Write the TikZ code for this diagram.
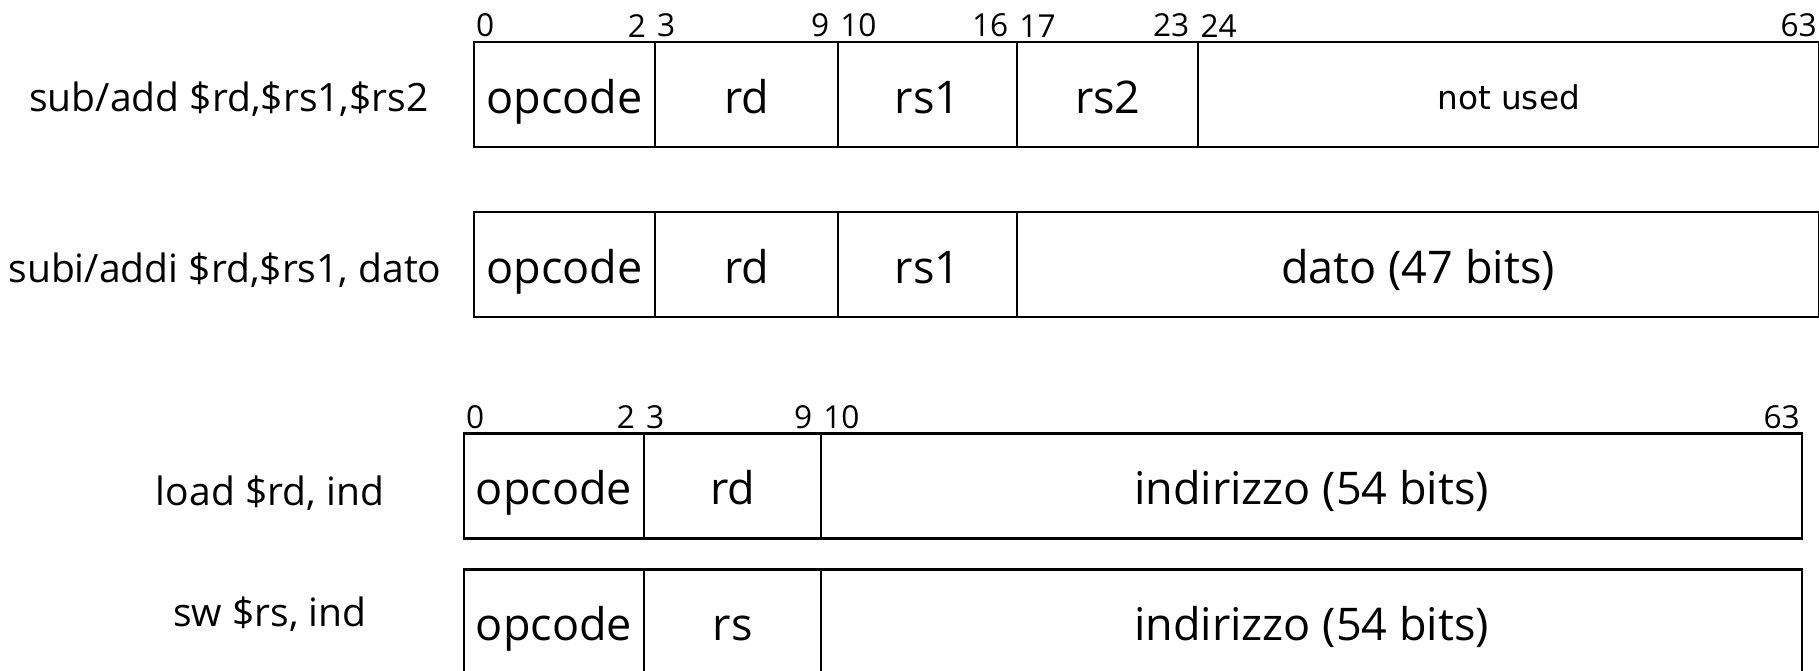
\documentclass[tikz,border=0pt]{standalone}
\usepackage{fontspec}
\setmainfont{Open Sans}
\newfontfamily\dvsans{DejaVu Sans}
\usetikzlibrary{positioning}

\begin{document}
\begin{tikzpicture}[x=0.01cm,y=-0.01cm,
  field/.style={draw,line width=0.6pt,outer sep=0pt,inner sep=0pt,
    minimum height=1.05cm,text height=1.32em,text depth=0.24em,
    font=\fontsize{12.8}{15}\selectfont},
  small/.style={text height=1.1em,font=\dvsans\fontsize{9.3}{11}\selectfont},
  instr/.style={anchor=base,inner sep=0pt,font=\fontsize{11.1}{13}\selectfont},
  bitl/.style={anchor=south west,inner xsep=0.4pt,inner ysep=1.2pt,
    font=\fontsize{9}{10}\selectfont},
  bitr/.style={anchor=south east,inner xsep=0.4pt,inner ysep=1.2pt,xshift=-0.7mm,
    font=\fontsize{9}{10}\selectfont}]
\useasboundingbox (0,0) rectangle (1819,671);

\coordinate (R1) at (474,94.5);
\coordinate (R2) at (474,264.5);
\coordinate (R3) at (464,486);
\coordinate (R4) at (464,622);

% sub/add
\node[field,minimum width=1.81cm,anchor=west] (op1) at (R1) {opcode};
\node[field,minimum width=1.83cm,right=0pt of op1] (rd1) {rd};
\node[field,minimum width=1.79cm,right=0pt of rd1] (rsa1) {rs1};
\node[field,minimum width=1.81cm,right=0pt of rsa1] (rsb1) {rs2};
\node[field,small,minimum width=6.20cm,right=0pt of rsb1] (nu1) {not used};

\node[bitl] (b0) at (op1.north west) {0};
\node[bitr] (b2) at (op1.north east) {2};
\node[bitl] (b3) at (rd1.north west) {3};
\node[bitr] (b9) at (rd1.north east) {9};
\node[bitl] (b10) at (rsa1.north west) {10};
\node[bitr] (b16) at (rsa1.north east) {16};
\node[bitl] (b17) at (rsb1.north west) {17};
\node[bitr] (b23) at (rsb1.north east) {23};
\node[bitl] (b24) at (nu1.north west) {24};
\node[bitr,xshift=0.7mm] (b63) at (nu1.north east) {63};

% subi/addi
\node[field,minimum width=1.81cm,anchor=west] (op2) at (R2) {opcode};
\node[field,minimum width=1.83cm,right=0pt of op2] (rd2) {rd};
\node[field,minimum width=1.79cm,right=0pt of rd2] (rsa2) {rs1};
\node[field,minimum width=8.01cm,right=0pt of rsa2] (dato2) {dato (47 bits)};

% load
\node[field,minimum width=1.80cm,anchor=west] (op3) at (R3) {opcode};
\node[field,minimum width=1.77cm,right=0pt of op3] (rd3) {rd};
\node[field,minimum width=9.80cm,right=0pt of rd3] (ind3) {indirizzo (54 bits)};

\node[bitl] (c0) at (op3.north west) {0};
\node[bitr] (c2) at (op3.north east) {2};
\node[bitl] (c3) at (rd3.north west) {3};
\node[bitr] (c9) at (rd3.north east) {9};
\node[bitl] (c10) at (ind3.north west) {10};
\node[bitr,xshift=0.7mm] (c63) at (ind3.north east) {63};

% sw
\node[field,minimum width=1.80cm,anchor=west] (op4) at (R4) {opcode};
\node[field,minimum width=1.77cm,right=0pt of op4] (rs4) {rs};
\node[field,minimum width=9.80cm,right=0pt of rs4] (ind4) {indirizzo (54 bits)};

\node[instr] (l1) at (229,112) {sub/add \$rd,\$rs1,\$rs2};
\node[instr] (l2) at (225,283) {subi/addi \$rd,\$rs1, dato};
\node[instr] (l3) at (270,506) {load \$rd, ind};
\node[instr] (l4) at (270,627) {sw \$rs, ind};

\end{tikzpicture}
\end{document}
